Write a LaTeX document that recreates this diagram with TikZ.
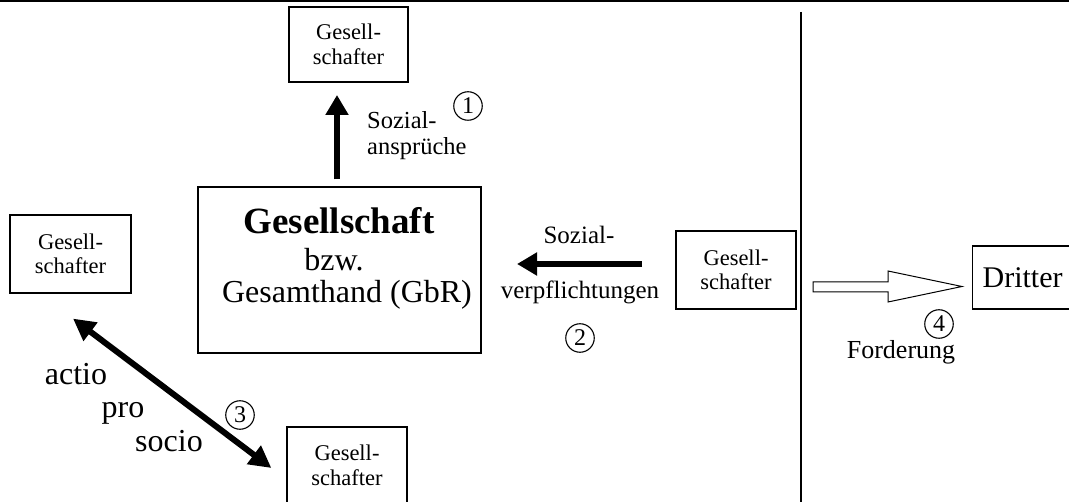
\documentclass[tikz,border=0pt]{standalone}
\usepackage{fontspec}
\setmainfont{Liberation Serif}
\usetikzlibrary{arrows.meta,calc}
\begin{document}
\begin{tikzpicture}[x=1pt,y=-1pt,
  box/.style={draw,line width=1.2pt,inner sep=0pt,align=center,font=\fontsize{22.5}{24.5}\selectfont},
  lbl/.style={inner sep=0pt,anchor=base},
  num/.style={draw,circle,line width=1.1pt,minimum size=28.5pt,inner sep=0pt,font=\fontsize{24}{24}\selectfont},
  bigarrow/.style={line width=6pt,-{Triangle[length=20pt,width=22pt]}},
  dblarrow/.style={line width=6pt,{Triangle[length=22pt,width=22pt]}-{Triangle[length=22pt,width=22pt]}},
  ]
\useasboundingbox (0,0) rectangle (1069,502);
\clip (0,0) rectangle (1069,502);
% frame lines
\draw[line width=2pt] (0,1) -- (1069,1);
\draw[line width=2.2pt] (801,12) -- (801,502);
% boxes
\node[box, minimum width=119pt, minimum height=75pt] (g1) at (348.5,44.5) {Gesell-\\schafter};
\node[draw, line width=1.2pt, minimum width=283pt, minimum height=166pt] (big) at (339.5,270) {};
\node[box, minimum width=121pt, minimum height=78pt] (g2) at (70.5,254) {Gesell-\\schafter};
\node[box, minimum width=120pt, minimum height=77pt] (g3) at (347,465.5) {Gesell-\\schafter};
\node[box, minimum width=120pt, minimum height=78pt] (g4) at (736,270) {Gesell-\\schafter};
\node[draw, line width=1.2pt, anchor=west, minimum height=63pt, text width=110pt, inner xsep=10pt, inner ysep=0pt, align=left, font=\fontsize{30}{30}\selectfont] (dr) at (972,277.5) {Dritter};
% big box text
\node[lbl, font=\bfseries\fontsize{37}{37}\selectfont] (t1) at (339,234) {Gesellschaft};
\node[lbl, font=\fontsize{32}{32}\selectfont] (t2) at (334,271) {bzw.};
\node[lbl, font=\fontsize{32}{32}\selectfont] (t3) at (347,303) {Gesamthand (GbR)};
% arrows
\coordinate (c1) at (337,0);
\coordinate (c2) at (0,264);
\draw[bigarrow, shorten <=7pt, shorten >=12.4pt] (big.north -| c1) -- (g1.south -| c1);
\draw[bigarrow, shorten <=33.4pt, shorten >=35.4pt] (g4.west |- c2) -- (big.east |- c2);
\draw[dblarrow] ($(g2.south)+(2.5,25)$) -- ($(g3.west)+(-15,2.5)$);
\draw[line width=1pt, fill=white] (813,282) -- (888,282) -- (888,271) -- (962,286.5) -- (888,302) -- (888,292) -- (813,292) -- cycle;
% labels
\node[lbl, anchor=base west, font=\fontsize{24.5}{24.5}\selectfont] (s1a) at (367,129) {Sozial-};
\node[lbl, anchor=base west, font=\fontsize{24.5}{24.5}\selectfont] (s1b) at (367,155) {ansprüche};
\node[num] (n1) at (468,106) {1};
\node[lbl, font=\fontsize{25}{25}\selectfont] (s2a) at (579,244) {Sozial-};
\node[lbl, font=\fontsize{25}{25}\selectfont] (s2b) at (580,299) {verpflichtungen};
\node[num] (n2) at (580,338) {2};
\node[lbl, font=\fontsize{32}{32}\selectfont] (a1) at (76,385) {actio};
\node[lbl, font=\fontsize{32}{32}\selectfont] (a2) at (123,418) {pro};
\node[lbl, font=\fontsize{32}{32}\selectfont] (a3) at (169,452) {socio};
\node[num] (n3) at (240,415) {3};
\node[num] (n4) at (939,324) {4};
\node[lbl, font=\fontsize{26}{26}\selectfont] (fo) at (901,359) {Forderung};
\end{tikzpicture}
\end{document}
